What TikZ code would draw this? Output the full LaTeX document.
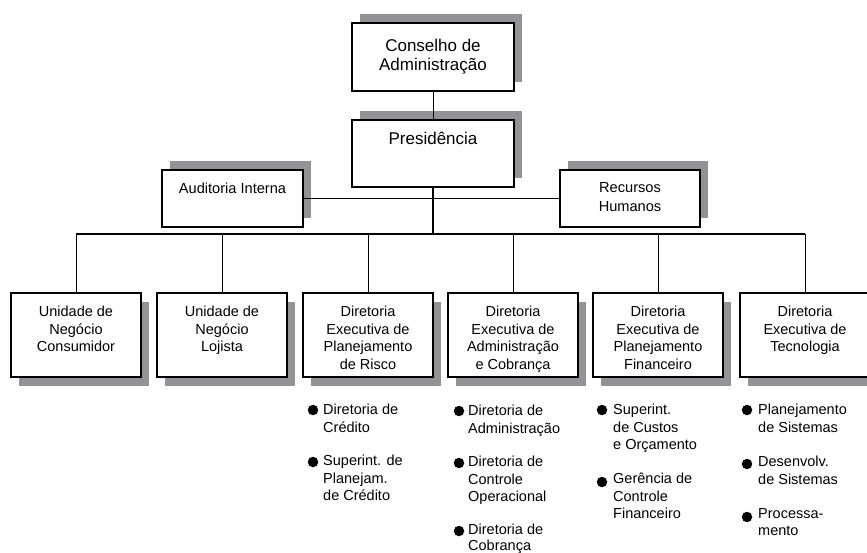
\documentclass[tikz,border=0pt]{standalone}
\usepackage{fontspec}
\setmainfont{Liberation Sans}
\usetikzlibrary{shadows}
\definecolor{shade}{RGB}{146,146,151}
\begin{document}
\begin{tikzpicture}[x=1pt,y=-1pt,
  box/.style={draw=black, line width=1.1pt, fill=white, inner sep=0pt, rectangle},
  upshadow/.style={general shadow={shadow xshift=8pt, shadow yshift=9pt, fill=shade}},
  downshadow/.style={general shadow={shadow xshift=8pt, shadow yshift=-9pt, fill=shade}},
  topbox/.style={box, upshadow, minimum width=162pt},
  sidebox/.style={box, upshadow, minimum height=57pt},
  lowbox/.style={box, downshadow, minimum width=130pt, minimum height=84pt},
  bigtxt/.style={inner sep=0pt, align=center, anchor=north, font=\fontsize{17}{19.5}\selectfont},
  midtxt/.style={inner sep=0pt, align=center, anchor=north, font=\fontsize{14.6}{18.5}\selectfont},
  btxt/.style={inner sep=0pt, align=center, anchor=north, font=\fontsize{14.5}{17.5}\selectfont},
  ltxt/.style={inner sep=0pt, align=left, anchor=north west, font=\fontsize{14.5}{17.5}\selectfont},
  dot/.style={circle, fill=black, inner sep=0pt, minimum size=10.5pt},
  link/.style={draw=black, line width=0.9pt},
  trunk/.style={draw=black, line width=1.7pt}]
\useasboundingbox (0,0) rectangle (867,553);

% top boxes
\node[topbox, minimum height=68pt] (cons) at (433,57) {};
\node[topbox, minimum height=67pt] (pres) at (433,153.5) {};
\node[sidebox, minimum width=141pt] (aud) at (232.5,198.5) {};
\node[sidebox, minimum width=140pt] (rh) at (630,198.5) {};

\node[bigtxt] (consT) at (433,38.5) {Conselho de\\Administração};
\node[bigtxt] (presT) at (433,131.5) {Presidência};
\node[midtxt] (audT) at (232.5,182.3) {Auditoria Interna};
\node[midtxt] (rhT) at (630,182.3) {Recursos\\Humanos};

% lower boxes
\node[lowbox] (b1) at (76,335) {};
\node[lowbox] (b2) at (222,335) {};
\node[lowbox] (b3) at (368,335) {};
\node[lowbox] (b4) at (513,335) {};
\node[lowbox] (b5) at (658,335) {};
\node[lowbox] (b6) at (805,335) {};

\node[btxt] (b1T) at (76,306) {Unidade de\\Negócio\\Consumidor};
\node[btxt] (b2T) at (222,306) {Unidade de\\Negócio\\Lojista};
\node[btxt] (b3T) at (368,306) {Diretoria\\Executiva de\\Planejamento\\de Risco};
\node[btxt] (b4T) at (513,306) {Diretoria\\Executiva de\\Administração\\e Cobrança};
\node[btxt] (b5T) at (658,306) {Diretoria\\Executiva de\\Planejamento\\Financeiro};
\node[btxt] (b6T) at (805,306) {Diretoria\\Executiva de\\Tecnologia};

% connectors
\draw[link] (cons.south) -- (pres.north);
\draw[link] (aud.east) -- (rh.west);
\coordinate (busc) at (433,234);
\draw[trunk] (pres.south) -- (busc);
\coordinate (j1) at (b1.north |- busc);
\coordinate (j2) at (b2.north |- busc);
\coordinate (j3) at (b3.north |- busc);
\coordinate (j4) at (b4.north |- busc);
\coordinate (j5) at (b5.north |- busc);
\coordinate (j6) at (b6.north |- busc);
\draw[link, line width=1.2pt] (j1) -- (j6);
\foreach \k in {1,...,6} { \draw[link] (j\k) -- (b\k.north); }

% bullet lists
\node[dot] (d31) at (313,410) {};
\node[ltxt] (t31) at (323,403.8) {Diretoria de\\Crédito};
\node[dot] (d32) at (313,462) {};
\node[ltxt] (t32) at (323,455) {Superint. de\\Planejam.\\de Crédito};

\node[dot] (d41) at (459,411) {};
\node[ltxt] (t41) at (468,405) {Diretoria de\\Administração};
\node[dot] (d42) at (459,463) {};
\node[ltxt] (t42) at (468,456) {Diretoria de\\Controle\\Operacional};
\node[dot] (d43) at (459,531) {};
\node[ltxt, font=\fontsize{14.5}{16.5}\selectfont] (t43) at (468,523.5) {Diretoria de\\Cobrança};

\node[dot] (d51) at (602,410) {};
\node[ltxt] (t51) at (613,404) {Superint.\\de Custos\\e Orçamento};
\node[dot] (d52) at (602,482) {};
\node[ltxt] (t52) at (613,473) {Gerência de\\Controle\\Financeiro};

\node[dot] (d61) at (747,410) {};
\node[ltxt] (t61) at (758,404) {Planejamento\\de Sistemas};
\node[dot] (d62) at (747,464) {};
\node[ltxt] (t62) at (758,456) {Desenvolv.\\de Sistemas};
\node[dot] (d63) at (747,517) {};
\node[ltxt] (t63) at (758,508) {Processa-\\mento};
\end{tikzpicture}
\end{document}
